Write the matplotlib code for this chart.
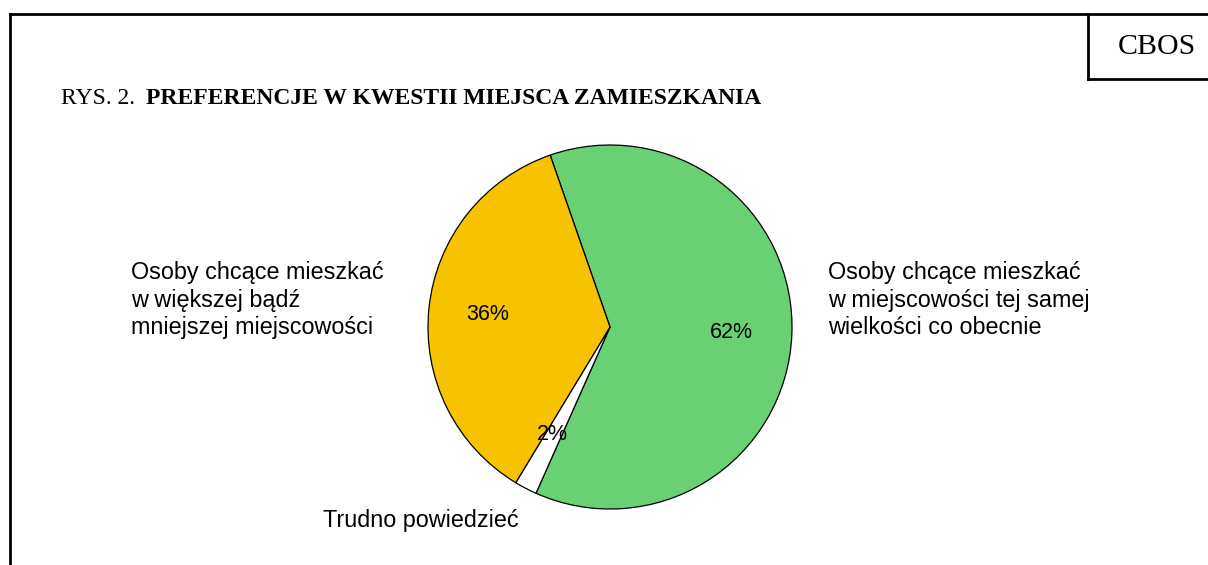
import matplotlib
matplotlib.use("Agg")
import matplotlib.pyplot as plt
from matplotlib.lines import Line2D

W, H = 1208, 565
categories = ["Osoby chcące mieszkać\nw miejscowości tej samej\nwielkości co obecnie",
              "Trudno powiedzieć",
              "Osoby chcące mieszkać\nw większej bądź\nmniejszej miejscowości"]
values = [62, 2, 36]
pct_labels = ["62%", "2%", "36%"]
colors = ["#69D174", "#FFFFFF", "#F7C300"]

fig = plt.figure(figsize=(W / 100, H / 100), dpi=100)

def px(x, y):
    return x / W, 1 - y / H

# frame
lw = 2.0
fig.add_artist(Line2D([10 / W, 1.0], [1 - 14 / H] * 2, color="black", lw=lw, transform=fig.transFigure))
fig.add_artist(Line2D([10 / W] * 2, [1 - 14 / H, 0], color="black", lw=lw, transform=fig.transFigure))
fig.add_artist(Line2D([1088 / W] * 2, [1 - 14 / H, 1 - 79 / H], color="black", lw=lw, transform=fig.transFigure))
fig.add_artist(Line2D([1088 / W, 1.0], [1 - 79 / H] * 2, color="black", lw=lw, transform=fig.transFigure))

fig.text(*px(1157, 47), "CBOS", family="Liberation Serif", fontsize=21.5, ha="center", va="center")
fig.text(*px(61, 104), "RYS. 2.", family="Liberation Serif", fontsize=17, ha="left", va="baseline")
fig.text(*px(146, 104), "PREFERENCJE W KWESTII MIEJSCA ZAMIESZKANIA", family="Liberation Serif",
         fontsize=17, fontweight="bold", ha="left", va="baseline")

# pie
cx, cy, r = 610, 327, 182
ax = fig.add_axes([(cx - r) / W, (H - cy - r) / H, 2 * r / W, 2 * r / H])
ax.pie(values, colors=colors, startangle=109.2, counterclock=False, radius=1,
       wedgeprops=dict(edgecolor="black", linewidth=0.9))
ax.set_xlim(-1.0, 1.0)
ax.set_ylim(-1.0, 1.0)
ax.set_aspect("equal")
ax.axis("off")

pct_pos = [(731, 332), (552, 435), (488, 315)]
for (x, y), t in zip(pct_pos, pct_labels):
    ax.text((x - cx) / r, (cy - y) / r, t, family="Liberation Sans", fontsize=15.5,
            ha="center", va="center")

lab_pos = [(828, 300), (323, 520), (131, 300)]
for (x, y), t in zip(lab_pos, categories):
    fig.text(*px(x, y), t, family="Liberation Sans", fontsize=16.8, ha="left", va="center",
             linespacing=1.27)

fig.savefig("out.png", dpi=100)
